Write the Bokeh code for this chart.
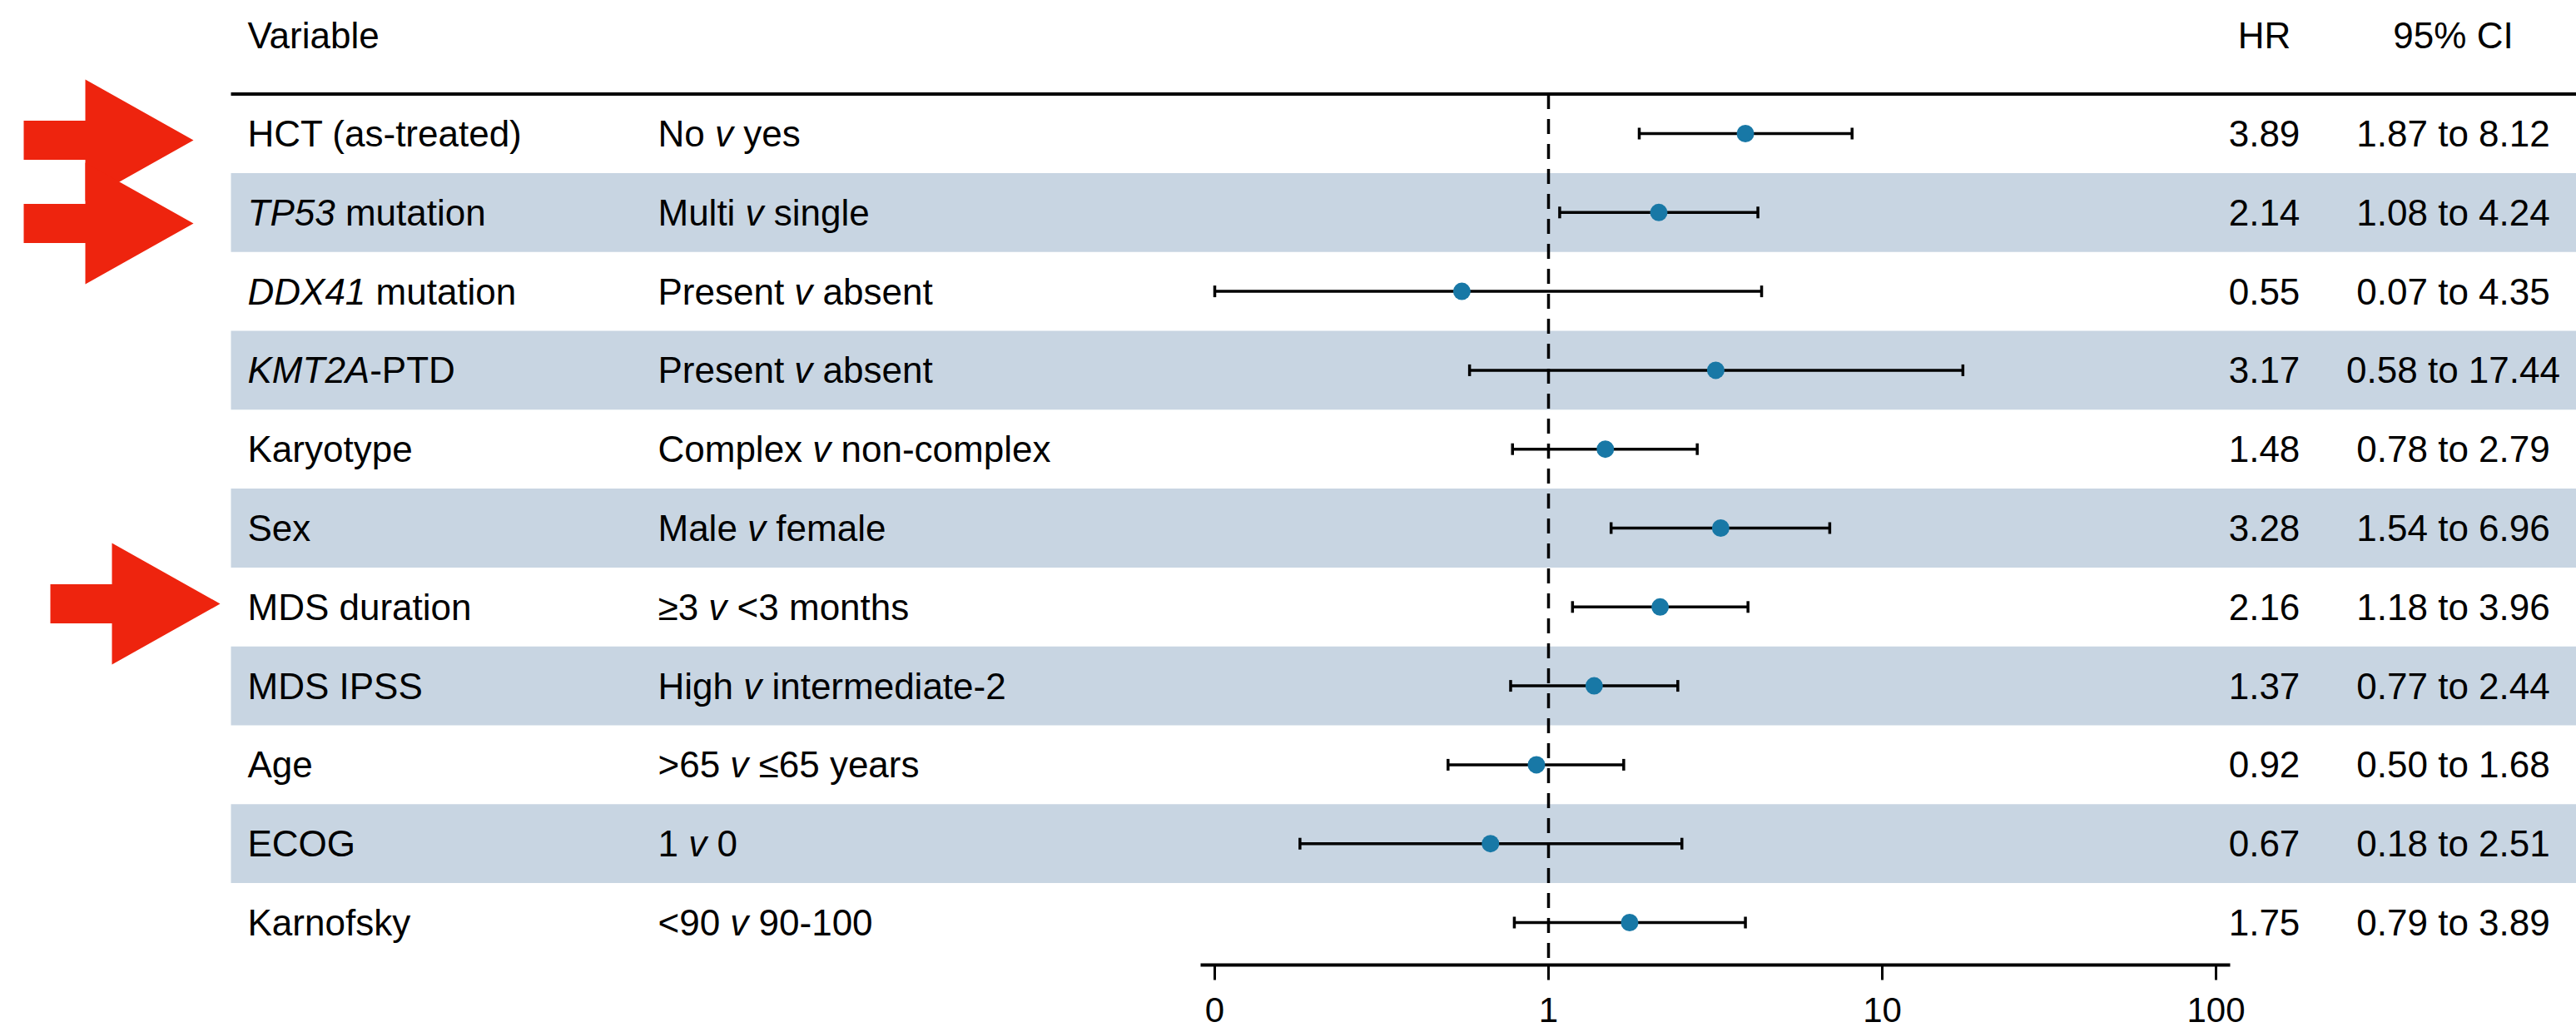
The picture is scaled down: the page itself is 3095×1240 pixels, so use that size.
import numpy as np
from bokeh.plotting import figure
from bokeh.models import Range1d, LinearScale, FixedTicker, ColumnDataSource
from bokeh.core.properties import value
from bokeh.embed import file_html
from bokeh.resources import INLINE

# ---------------- data ----------------
VAR_ITALIC = ["", "TP53", "DDX41", "KMT2A", "", "", "", "", "", "", ""]
VAR_TEXT = ["HCT (as-treated)", " mutation", " mutation", "-PTD", "Karyotype", "Sex",
            "MDS duration", "MDS IPSS", "Age", "ECOG", "Karnofsky"]
COMP_A = ["No", "Multi", "Present", "Present", "Complex", "Male", "\u22653", "High", ">65", "1", "<90"]
COMP_B = ["yes", "single", "absent", "absent", "non-complex", "female", "<3 months",
          "intermediate-2", "\u226465 years", "0", "90-100"]
HR = [3.89, 2.14, 0.55, 3.17, 1.48, 3.28, 2.16, 1.37, 0.92, 0.67, 1.75]
CI_LO = [1.87, 1.08, 0.07, 0.58, 0.78, 1.54, 1.18, 0.77, 0.50, 0.18, 0.79]
CI_HI = [8.12, 4.24, 4.35, 17.44, 2.79, 6.96, 3.96, 2.44, 1.68, 2.51, 3.89]
TICK_VALUES = [0.1, 1, 10, 100]
TICK_LABELS = ["0", "1", "10", "100"]
HEADERS = ["Variable", "HR", "95% CI"]
REF_VALUE = 1
# annotation arrows (tip positions, page pixels)
ARROW_TIP_X = [232, 232, 264]
ARROW_TIP_Y = [168, 268, 725]

# ---------------- layout ----------------
FONT = "Liberation Sans"
FS = 44
W, H = 3095, 1240
BOTTOM = 81                        # space reserved below the frame for the axis
FRAME_H = H - BOTTOM
X_ONE, DECADE = 1860, 401          # page x of HR=1 and pixels per decade
ROW0, ROW_H = 160, 94.8            # page y of first row centre and row height
TABLE_LEFT = 277
COL1_X, COL2_X = 297, 790
HR_X, CI_X = 2720, 2947
HEADER_Y = 42

def logval(px):
    return 10 ** ((px - X_ONE) / DECADE)

def row_of(py):
    return (py - ROW0) / ROW_H

# Arial / Liberation Sans advance widths (per 1000 em)
ADV = {" ": 278, "v": 500, "N": 722, "o": 556, "M": 833, "u": 556, "l": 222, "t": 278,
       "i": 222, "P": 667, "r": 333, "e": 556, "s": 500, "n": 556, "C": 722, "m": 833,
       "p": 556, "x": 500, "a": 556, "\u2265": 549, "\u2264": 549, "H": 722, "g": 556,
       "h": 556, ">": 584, "<": 584, "T": 611, "D": 722, "X": 667, "K": 667, "A": 667,
       "0": 556, "1": 556, "2": 556, "3": 556, "4": 556, "5": 556, "6": 556, "7": 556,
       "8": 556, "9": 556}

def tw(s):
    return sum(ADV.get(c, 556) for c in s) * FS / 1000.0

n = len(HR)
rows = list(range(n))
axis_min = TICK_VALUES[0]
lo_plot = [max(v, axis_min) for v in CI_LO]

src = ColumnDataSource(dict(row=rows, hr=HR, lo=lo_plot, hi=CI_HI))

p = figure(width=W, height=H,
           x_axis_type="log",
           x_range=Range1d(logval(0), logval(W)),
           y_range=Range1d(row_of(FRAME_H), row_of(0)),
           y_axis_location=None,
           output_backend="svg", toolbar_location=None,
           min_border_left=0, min_border_right=0, min_border_top=0,
           min_border_bottom=BOTTOM, outline_line_color=None,
           background_fill_color="white", border_fill_color="white")
p.extra_x_ranges = {"px": Range1d(0, W)}
p.extra_x_scales = {"px": LinearScale()}
p.grid.visible = False

ax = p.xaxis[0]
ax.ticker = FixedTicker(ticks=TICK_VALUES, minor_ticks=[])
ax.major_label_overrides = {v: l for v, l in zip(TICK_VALUES, TICK_LABELS)}
ax.bounds = (logval(1442), logval(2679))
ax.axis_line_width = 4
ax.axis_line_color = "black"
ax.major_tick_line_width = 3
ax.major_tick_line_color = "black"
ax.major_tick_out = 18
ax.major_tick_in = 0
ax.minor_tick_line_color = None
ax.major_label_text_font = FONT
ax.major_label_text_font_size = "42px"
ax.major_label_text_color = "black"
ax.major_label_standoff = 21

# bands
band_rows = [r for r in rows if r % 2 == 1]
p.quad(left=TABLE_LEFT, right=W,
       top=[r - 0.5 for r in band_rows], bottom=[r + 0.5 for r in band_rows],
       x_range_name="px", fill_color="#c8d5e2", line_color=None)

# header rule
p.segment(x0=[TABLE_LEFT], x1=[W], y0=[-0.5], y1=[-0.5], x_range_name="px",
          line_width=4, line_color="black")

# reference line at HR = 1
p.segment(x0=[REF_VALUE], x1=[REF_VALUE], y0=[-0.5], y1=[row_of(FRAME_H)],
          line_dash="18 12", line_width=3.5, line_color="black")

# error bars
p.segment(x0="lo", x1="hi", y0="row", y1="row", source=src, line_width=3.5, line_color="black")
p.scatter(x="lo", y="row", source=src, marker="dash", angle=np.pi / 2, size=14,
          line_width=3.5, line_color="black")
p.scatter(x="hi", y="row", source=src, marker="dash", angle=np.pi / 2, size=14,
          line_width=3.5, line_color="black")
p.scatter(x="hr", y="row", source=src, size=21, fill_color="#1878a6", line_color=None)

common = dict(x_range_name="px", text_font=value(FONT), text_font_size=f"{FS}px",
              text_baseline="middle", text_color="black")

# headers
hy = row_of(HEADER_Y)
p.text(x=[COL1_X], y=[hy], text=[HEADERS[0]], text_align="left", **common)
p.text(x=[HR_X, CI_X], y=[hy, hy], text=HEADERS[1:], text_align="center", **common)

# variable column (italic gene names + roman remainder); spaces become x offsets
it_rows = [r for r in rows if VAR_ITALIC[r]]
p.text(x=[COL1_X] * len(it_rows), y=it_rows, text=[VAR_ITALIC[r] for r in it_rows],
       text_align="left", text_font_style="italic", **common)
rest_x = []
for r in rows:
    s = VAR_TEXT[r]
    lead = s[: len(s) - len(s.lstrip(" "))]
    rest_x.append(COL1_X + tw(VAR_ITALIC[r]) + tw(lead))
p.text(x=rest_x, y=rows, text=[s.lstrip(" ") for s in VAR_TEXT], text_align="left", **common)

# comparison column: "A v B" with italic v
p.text(x=[COL2_X] * n, y=rows, text=COMP_A, text_align="left", **common)
vx = [COL2_X + tw(a + " ") for a in COMP_A]
p.text(x=vx, y=rows, text=["v"] * n, text_align="left", text_font_style="italic", **common)
p.text(x=[x + tw("v ") for x in vx], y=rows, text=COMP_B, text_align="left", **common)

# HR and CI columns
p.text(x=[HR_X] * n, y=rows, text=[f"{v:.2f}" for v in HR], text_align="center", **common)
p.text(x=[CI_X] * n, y=rows, text=[f"{a:.2f} to {b:.2f}" for a, b in zip(CI_LO, CI_HI)],
       text_align="center", **common)

# red annotation arrows
HEAD_LEN, TAIL_LEN, SHAFT_HALF, HEAD_HALF = 130, 204, 23.5, 73
axs, ays = [], []
for tx, ty in zip(ARROW_TIP_X, ARROW_TIP_Y):
    axs.append([tx, tx - HEAD_LEN, tx - HEAD_LEN, tx - TAIL_LEN, tx - TAIL_LEN,
                tx - HEAD_LEN, tx - HEAD_LEN])
    ays.append([row_of(v) for v in [ty, ty - HEAD_HALF, ty - SHAFT_HALF, ty - SHAFT_HALF,
                                     ty + SHAFT_HALF, ty + SHAFT_HALF, ty + HEAD_HALF]])
p.patches(xs=axs, ys=ays, x_range_name="px", fill_color="#ee240e", line_color=None)

open("out.html", "w").write(file_html(p, INLINE))
